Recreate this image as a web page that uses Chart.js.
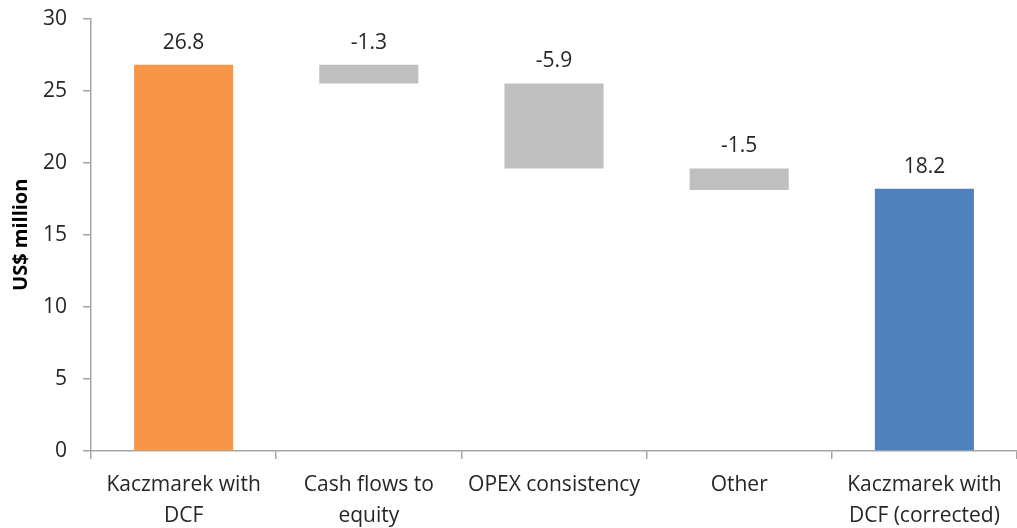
<!DOCTYPE html>
<html><head><meta charset="utf-8">
<script src="https://cdn.jsdelivr.net/npm/chart.js@4"></script>
<style>html,body{margin:0;padding:0;background:#fff;overflow:hidden;}#wrap{width:1017px;height:528px;overflow:hidden;position:relative;}#c{position:absolute;left:0;top:-10px;}</style>
</head><body><div id="wrap"><canvas id="c" width="1017" height="538"></canvas></div>
<script>
const categories = [["Kaczmarek with","DCF"],["Cash flows to","equity"],["OPEX consistency"],["Other"],["Kaczmarek with","DCF (corrected)"]];
const startValue = 26.8;
const changes = [-1.3, -5.9, -1.5];
const endValue = 18.2;
const labels = ["26.8","-1.3","-5.9","-1.5","18.2"];
const colors = ["#f79646","#bfbfbf","#bfbfbf","#bfbfbf","#4f81bd"];
const yTicks = [0,5,10,15,20,25,30];

const ranges = [[0, startValue]];
let run = startValue;
for (const c of changes) { const next = Math.round((run + c)*10)/10; ranges.push([next, run]); run = next; }
ranges.push([0, endValue]);

const FONT = "'Open Sans', Lato, sans-serif";
const txt = '#262626';
const axisCol = '#a6a6a6';

const labelPlugin = {
  id:'lbl',
  afterDatasetsDraw(chart){
    const ctx = chart.ctx;
    const meta = chart.getDatasetMeta(0);
    ctx.save();
    ctx.font = "21px " + FONT;
    ctx.fillStyle = txt;
    ctx.textAlign = 'center';
    ctx.textBaseline = 'middle';
    meta.data.forEach((el,i)=>{
      const top = Math.min(el.y, el.base);
      ctx.fillText(labels[i], el.x, top - 22);
    });
    ctx.restore();
  }
};

new Chart(document.getElementById('c'), {
  type:'bar',
  data:{ labels: categories, datasets:[{ data: ranges, backgroundColor: colors, borderWidth:0, barPercentage:0.535, categoryPercentage:1.0 }]},
  options:{
    responsive:false, animation:false,
    layout:{ padding:{ top:0, right:0, left:0, bottom:0 } },
    plugins:{ legend:{display:false}, tooltip:{enabled:false} },
    scales:{
      x:{
        offset:true,
        grid:{ offset:true, drawOnChartArea:false, tickLength:8, color:axisCol, lineWidth:1.5 },
        border:{ color:axisCol, width:1.5 },
        ticks:{ color:txt, font:{ family:FONT, size:21, lineHeight:1.45 }, padding:11, maxRotation:0, autoSkip:false },
        afterFit(s){ s.height = 77; }
      },
      y:{
        min:0, max:30,
        afterBuildTicks(s){ s.ticks = yTicks.map(v=>({value:v})); },
        grid:{ drawOnChartArea:false, tickLength:8, color:axisCol, lineWidth:1.5 },
        border:{ color:axisCol, width:1.5 },
        ticks:{ color:txt, font:{ family:FONT, size:21 }, padding:16 },
        title:{ display:true, text:'US$ million', color:'#000', font:{ family:FONT, size:20, weight:'bold' }, padding:{top:9,bottom:0} },
        afterFit(s){ s.width = 91; }
      }
    }
  },
  plugins:[labelPlugin]
});
</script></body></html>
